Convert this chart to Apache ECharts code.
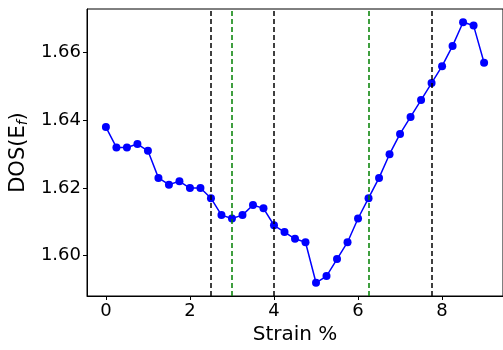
<!DOCTYPE html>
<html>
<head>
<meta charset="utf-8">
<script src="https://cdn.jsdelivr.net/npm/echarts@6/dist/echarts.min.js"></script>
<style>
  html, body { margin: 0; padding: 0; background: #fff; }
  #chart { width: 503px; height: 350px; }
</style>
</head>
<body>
<div id="chart"></div>
<script>
// Datos de la curva DOS(Ef) frente a la deformación
const strain = [0, 0.25, 0.5, 0.75, 1.0, 1.25, 1.5, 1.75, 2.0, 2.25, 2.5, 2.75, 3.0,
  3.25, 3.5, 3.75, 4.0, 4.25, 4.5, 4.75, 5.0, 5.25, 5.5, 5.75, 6.0, 6.25, 6.5,
  6.75, 7.0, 7.25, 7.5, 7.75, 8.0, 8.25, 8.5, 8.75, 9.0];
const dos = [1.638, 1.632, 1.632, 1.633, 1.631, 1.623, 1.621, 1.622, 1.620, 1.620,
  1.617, 1.612, 1.611, 1.612, 1.615, 1.614, 1.609, 1.607, 1.605, 1.604, 1.592,
  1.594, 1.599, 1.604, 1.611, 1.617, 1.623, 1.630, 1.636, 1.641, 1.646, 1.651,
  1.656, 1.662, 1.669, 1.668, 1.657];
const blackLines = [2.5, 4.0, 7.75];
const greenLines = [3.0, 6.25];
const xTicks = [0, 2, 4, 6, 8];
const yTicks = [1.60, 1.62, 1.64, 1.66];

const chart = echarts.init(document.getElementById('chart'));
const font = 'DejaVu Sans';

function vline(x, color) {
  return {
    xAxis: x,
    lineStyle: { color: color, type: [5, 3], width: 1.5 }
  };
}

chart.setOption({
  animation: false,
  grid: {
    left: 87, top: 9, width: 420, height: 290,
    show: true, borderColor: '#000', borderWidth: 1, backgroundColor: 'transparent'
  },
  xAxis: {
    type: 'value',
    min: -0.45, max: 9.45,
    name: 'Strain %',
    nameLocation: 'middle',
    nameGap: 29,
    nameTextStyle: { fontFamily: font, fontSize: 20, color: '#000', verticalAlign: 'top' },
    splitLine: { show: false },
    axisLine: { show: true, onZero: false, lineStyle: { color: '#000', width: 1 } },
    axisTick: { show: true, length: 4, lineStyle: { color: '#000' }, customValues: xTicks },
    axisLabel: {
      customValues: xTicks, margin: 6,
      fontFamily: font, fontSize: 18, color: '#000',
      formatter: v => String(v)
    }
  },
  yAxis: {
    type: 'value',
    min: 1.5881, max: 1.6729,
    name: '{a|DOS(E}{s|f}{a|)}',
    nameLocation: 'middle',
    nameRotate: 90,
    nameGap: 54,
    nameTextStyle: {
      rich: {
        a: { fontFamily: font, fontSize: 21, color: '#000' },
        s: { fontFamily: font, fontSize: 14, fontStyle: 'italic', color: '#000',
             verticalAlign: 'bottom', padding: [8, 0, 0, 0] }
      }
    },
    splitLine: { show: false },
    axisLine: { show: true, onZero: false, lineStyle: { color: '#000', width: 1 } },
    axisTick: { show: true, length: 4, lineStyle: { color: '#000' }, customValues: yTicks },
    axisLabel: {
      customValues: yTicks, margin: 6,
      fontFamily: font, fontSize: 18, color: '#000',
      formatter: v => v.toFixed(2)
    }
  },
  series: [{
    type: 'line',
    data: strain.map((x, i) => [x, dos[i]]),
    symbol: 'circle',
    symbolSize: 8,
    showSymbol: true,
    itemStyle: { color: '#0000ff' },
    lineStyle: { color: '#0000ff', width: 1.5 },
    z: 3,
    markLine: {
      silent: true,
      symbol: 'none',
      label: { show: false },
      animation: false,
      data: blackLines.map(x => vline(x, '#000')).concat(greenLines.map(x => vline(x, '#008000')))
    }
  }]
});
</script>
</body>
</html>
